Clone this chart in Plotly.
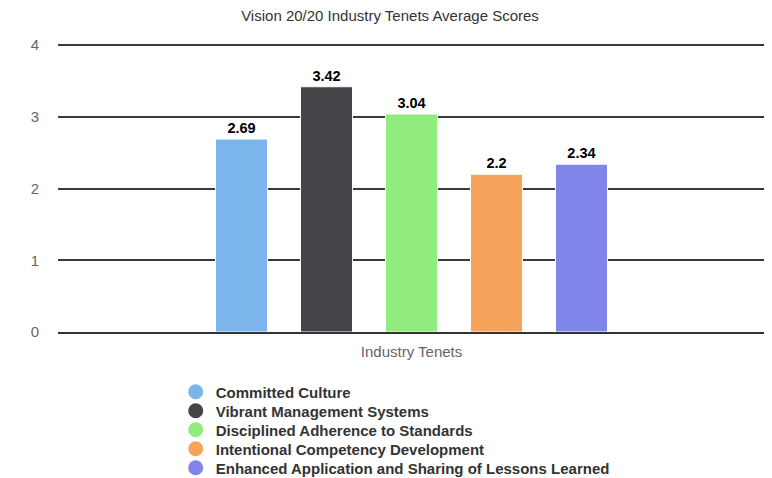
import plotly.graph_objects as go

# data
category = ["Industry Tenets"]
tenets = [
    "Committed Culture",
    "Vibrant Management Systems",
    "Disciplined Adherence to Standards",
    "Intentional Competency Development",
    "Enhanced Application and Sharing of Lessons Learned",
]
scores = [2.69, 3.42, 3.04, 2.2, 2.34]
colors = ["#7cb5ec", "#434348", "#90ed7d", "#f7a35c", "#8085e9"]

FONT = "Liberation Sans, Arial, sans-serif"

fig = go.Figure()

for name, val, col in zip(tenets, scores, colors):
    fig.add_trace(go.Bar(
        x=category, y=[val], name=name,
        marker=dict(color=col, line=dict(width=1, color="#ffffff")),
        text=[val], texttemplate="%{text}", textposition="outside",
        textfont=dict(family=FONT, size=14.5, color="#000000", weight="bold",
                      shadow="1px 1px 1px #ffffff"),
        cliponaxis=False, showlegend=False, hoverinfo="name+y",
    ))

# legend entries with round markers, one small legend per row so the
# rows can sit as close together as in the original
legend_rows = [-0.2076, -0.2734, -0.3391, -0.4048, -0.4706]
legend_ids = ["legend", "legend2", "legend3", "legend4", "legend5"]
for name, col, lid in zip(tenets, colors, legend_ids):
    fig.add_trace(go.Scatter(
        x=[None], y=[None], mode="markers", name=name, legend=lid,
        marker=dict(symbol="circle", size=15, color=col),
    ))

legend_style = dict(x=0.1665, xanchor="left", yanchor="middle",
                    font=dict(family=FONT, size=15, color="#333333", weight="bold"),
                    itemwidth=30, bgcolor="rgba(0,0,0,0)")
legends = {lid: dict(legend_style, y=yy) for lid, yy in zip(legend_ids, legend_rows)}

# the page body adds an 8px margin, so the figure is 8px smaller than the window
fig.update_layout(
    width=764, height=470,
    margin=dict(l=50, r=7, t=35, b=146, autoexpand=False),
    paper_bgcolor="white", plot_bgcolor="white",
    title=dict(text="Vision 20/20 Industry Tenets Average Scores",
               x=0.5, xanchor="center", y=1 - 2 / 470, yanchor="top",
               font=dict(family=FONT, size=15, color="#333333")),
    barmode="group", bargap=0.399, bargroupgap=0.388,
    showlegend=True,
    font=dict(family=FONT),
    **legends,
)

fig.update_xaxes(showgrid=False, showline=True, linecolor="#333333", linewidth=2,
                 ticks="", tickfont=dict(family=FONT, size=15, color="#666666"),
                 ticklabelstandoff=5, automargin=False)
fig.update_yaxes(range=[0, 4.03], tickvals=[0, 1, 2, 3, 4], showgrid=True,
                 gridcolor="#3a3a3a", gridwidth=2,
                 zeroline=False, showline=False, ticks="",
                 tickfont=dict(family=FONT, size=15, color="#666666"),
                 ticklabelstandoff=18, automargin=False)

fig.write_html("out.html")
